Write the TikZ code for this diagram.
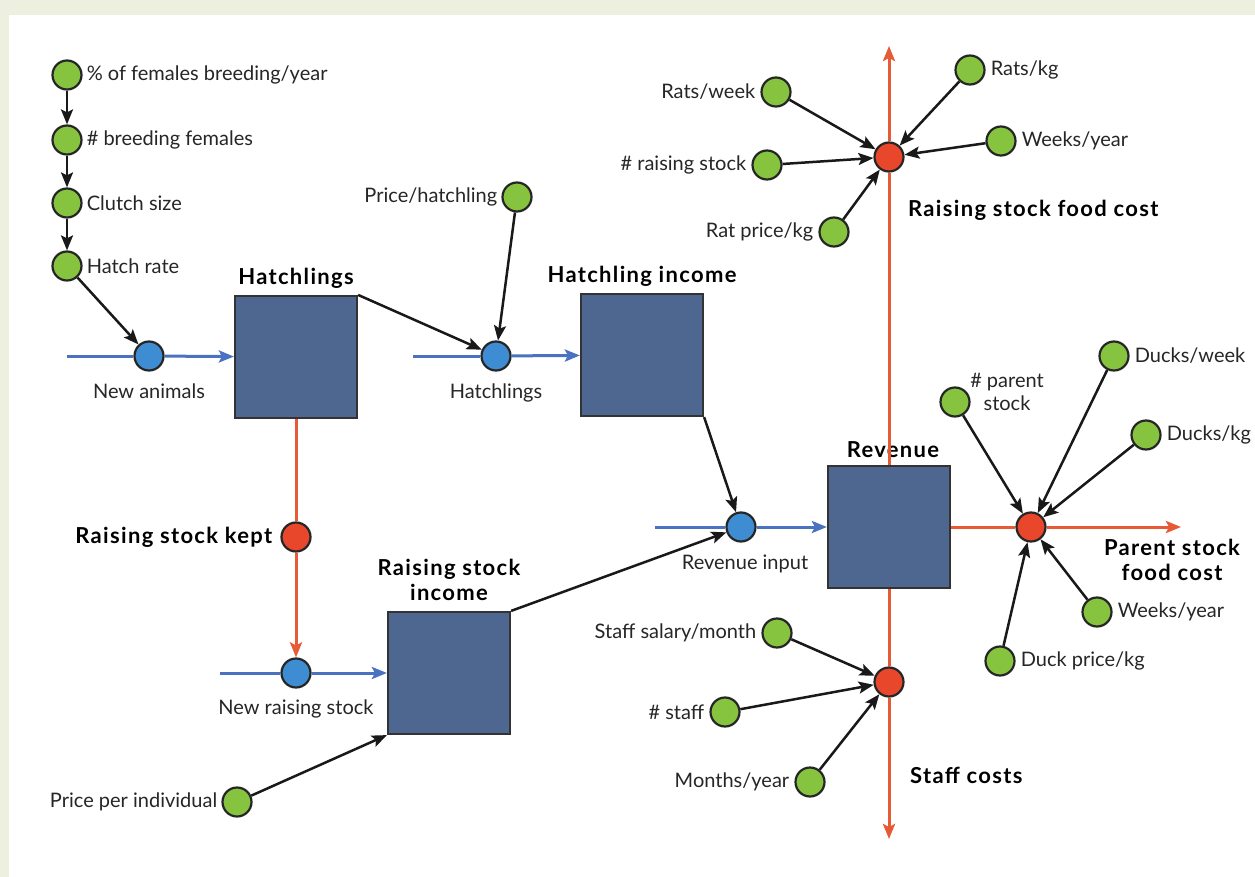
\documentclass[tikz,border=0pt]{standalone}
\usepackage{fontspec}
\setmainfont{Lato}
\newfontfamily\headfont{Lato}[LetterSpace=6]
\usetikzlibrary{positioning}
\usetikzlibrary{arrows.meta}
\definecolor{paramgreen}{HTML}{86C440}
\definecolor{rateblue}{HTML}{3E8DD3}
\definecolor{costred}{HTML}{E8472B}
\definecolor{stockfill}{HTML}{4D6790}
\definecolor{flowblue}{HTML}{4A72C0}
\definecolor{flowred}{HTML}{E65A35}
\definecolor{framegreen}{HTML}{EDF0DF}
\tikzset{param/.style={circle,fill=paramgreen,draw=black!85,line width=2.2pt,inner sep=0pt,
minimum size=29pt},
rate/.style={param,fill=rateblue},
cost/.style={param,fill=costred},
stock/.style={rectangle,fill=stockfill,draw=black!80,line width=2.2pt,inner sep=0pt,
minimum size=122pt},
lbl/.style={inner sep=2pt,text=black!85,font=\fontsize{20}{23}\selectfont},
head/.style={inner sep=2pt,align=center,font=\headfont\fontsize{22}{25}\selectfont\bfseries},
link/.style={->,line width=2.5pt,color=black!90},
bflow/.style={->,line width=3pt,color=flowblue},
rflow/.style={->,line width=3pt,color=flowred},
>={Stealth[length=15pt,width=12pt,inset=3pt]}}

\begin{document}
\begin{tikzpicture}[x=1pt,y=-1pt]
  \useasboundingbox (0,0) rectangle (1255,877);
  \fill [framegreen] (0,0) rectangle (1255,877);
  \fill [white] (9,15) rectangle (1255,877);

  % stocks
  \node (hatch) [stock] at (296,357) {};
  \node (hinc) [stock] at (642,355) {};
  \node (rsinc) [stock] at (449,673) {};
  \node (rev) [stock] at (889,527) {};
  \node (hatchhd) [head,above=4pt of hatch] {Hatchlings};
  \node (hinchd) [head,above=4pt of hinc] {Hatchling income};
  \node (rsinchd) [head,above=8pt of rsinc] {Raising stock\\income};
  \node (revhd) [head,above=5pt of rev,xshift=4pt] {Revenue};

  % breeding chain
  \node (pfem) [param] at (67,75) {};
  \node (breed) [param] at (67,140) {};
  \node (clutch) [param] at (67,203) {};
  \node (hrate) [param] at (67,266) {};
  \node (pfemlbl) [lbl,right=2pt of pfem] {\% of females breeding/year};
  \node (breedlbl) [lbl,right=2pt of breed] {\# breeding females};
  \node (clutchlbl) [lbl,right=2pt of clutch] {Clutch size};
  \node (hratelbl) [lbl,right=2pt of hrate] {Hatch rate};
  \draw [link] (pfem) -- (breed);
  \draw [link] (breed) -- (clutch);
  \draw [link] (clutch) -- (hrate);

  % flows
  \node (newa) [rate] at (149,356) {};
  \node (hrt) [rate] at (496,356) {};
  \node (revin) [rate] at (741,527) {};
  \node (newrs) [rate] at (296,673) {};
  \node (newalbl) [lbl,below=10pt of newa] {New animals};
  \node (hrtlbl) [lbl,below=10pt of hrt] {Hatchlings};
  \node (revinlbl) [lbl,below=10pt of revin,xshift=4pt] {Revenue input};
  \node (newrslbl) [lbl,below=9pt of newrs] {New raising stock};
  \coordinate (newain) at (67,356);
  \coordinate (hrtin) at (413,356);
  \coordinate (revinin) at (655,527);
  \coordinate (newrsin) at (220,673);
  \draw [bflow,-] (newain) -- (newa);
  \draw [bflow] (newa) -- (hatch);
  \draw [bflow,-] (hrtin) -- (hrt);
  \draw [bflow] (hrt) -- (hinc);
  \draw [bflow,-] (revinin) -- (revin);
  \draw [bflow] (revin) -- (rev);
  \draw [bflow,-] (newrsin) -- (newrs);
  \draw [bflow] (newrs) -- (rsinc);

  % raising stock kept
  \node (kept) [cost] at (296,537) {};
  \node (keptlbl) [head,left=6pt of kept] {Raising stock kept};
  \draw [rflow,-] (hatch) -- (kept);
  \draw [rflow] (kept) -- (newrs);

  % income inputs
  \node (phatch) [param] at (517,197) {};
  \node (phatchlbl) [lbl,left=2pt of phatch] {Price/hatchling};
  \node (pind) [param] at (237,802) {};
  \node (pindlbl) [lbl,left=2pt of pind] {Price per individual};
  \draw [link] (hrate) -- (newa);
  \draw [link] (hatch.north east) -- (hrt);
  \draw [link] (phatch) -- (hrt);
  \draw [link] (hinc.south east) -- (revin);
  \draw [link] (rsinc.north east) -- (revin);
  \draw [link] (pind) -- (rsinc.south west);

  % raising stock food cost
  \node (rfood) [cost] at (889,157) {};
  \coordinate (rfoodout) at (889,46);
  \draw [rflow,-] (rev.north) -- (rfood);
  \draw [rflow] (rfood) -- (rfoodout);
  \node (rfoodlbl) [head,anchor=west] at (906,210) {Raising stock food cost};
  \node (ratwk) [param] at (776,92) {};
  \node (ratkg) [param] at (970,70) {};
  \node (wkyr) [param] at (1001,141) {};
  \node (nrs) [param] at (767,165) {};
  \node (ratpr) [param] at (834,232) {};
  \node (ratwklbl) [lbl,left=3pt of ratwk] {Rats/week};
  \node (ratkglbl) [lbl,right=3pt of ratkg] {Rats/kg};
  \node (wkyrlbl) [lbl,right=3pt of wkyr] {Weeks/year};
  \node (nrslbl) [lbl,left=3pt of nrs] {\# raising stock};
  \node (ratprlbl) [lbl,left=3pt of ratpr] {Rat price/kg};
  \draw [link] (ratwk) -- (rfood);
  \draw [link] (ratkg) -- (rfood);
  \draw [link] (wkyr) -- (rfood);
  \draw [link] (nrs) -- (rfood);
  \draw [link] (ratpr) -- (rfood);

  % parent stock food cost
  \node (pfood) [cost] at (1031,527) {};
  \coordinate (pfoodout) at (1181,527);
  \draw [rflow,-] (rev.east) -- (pfood);
  \draw [rflow] (pfood) -- (pfoodout);
  \node (pfoodlbl) [head] at (1172,560) {Parent stock\\food cost};
  \node (npar) [param] at (955,402) {};
  \node (dwk) [param] at (1114,356) {};
  \node (dkg) [param] at (1146,435) {};
  \node (dwkyr) [param] at (1097,612) {};
  \node (dpr) [param] at (1000,661) {};
  \node (nparlbl) [lbl,align=center] at (1007,392) {\# parent\\stock};
  \node (dwklbl) [lbl,right=3pt of dwk] {Ducks/week};
  \node (dkglbl) [lbl,right=3pt of dkg] {Ducks/kg};
  \node (dwkyrlbl) [lbl,right=3pt of dwkyr] {Weeks/year};
  \node (dprlbl) [lbl,right=3pt of dpr] {Duck price/kg};
  \draw [link] (npar) -- (pfood);
  \draw [link] (dwk) -- (pfood);
  \draw [link] (dkg) -- (pfood);
  \draw [link] (dwkyr) -- (pfood);
  \draw [link] (dpr) -- (pfood);

  % staff costs
  \node (staff) [cost] at (889,682) {};
  \coordinate (staffout) at (889,839);
  \draw [rflow,-] (rev.south) -- (staff);
  \draw [rflow] (staff) -- (staffout);
  \node (stafflbl) [head,anchor=west] at (908,775) {Staff costs};
  \node (sal) [param] at (777,633) {};
  \node (nstaff) [param] at (725,712) {};
  \node (mnyr) [param] at (810,782) {};
  \node (sallbl) [lbl,left=3pt of sal] {Staff salary/month};
  \node (nstafflbl) [lbl,left=3pt of nstaff] {\# staff};
  \node (mnyrlbl) [lbl,left=3pt of mnyr] {Months/year};
  \draw [link] (sal) -- (staff);
  \draw [link] (nstaff) -- (staff);
  \draw [link] (mnyr) -- (staff);
\end{tikzpicture}
\end{document}
